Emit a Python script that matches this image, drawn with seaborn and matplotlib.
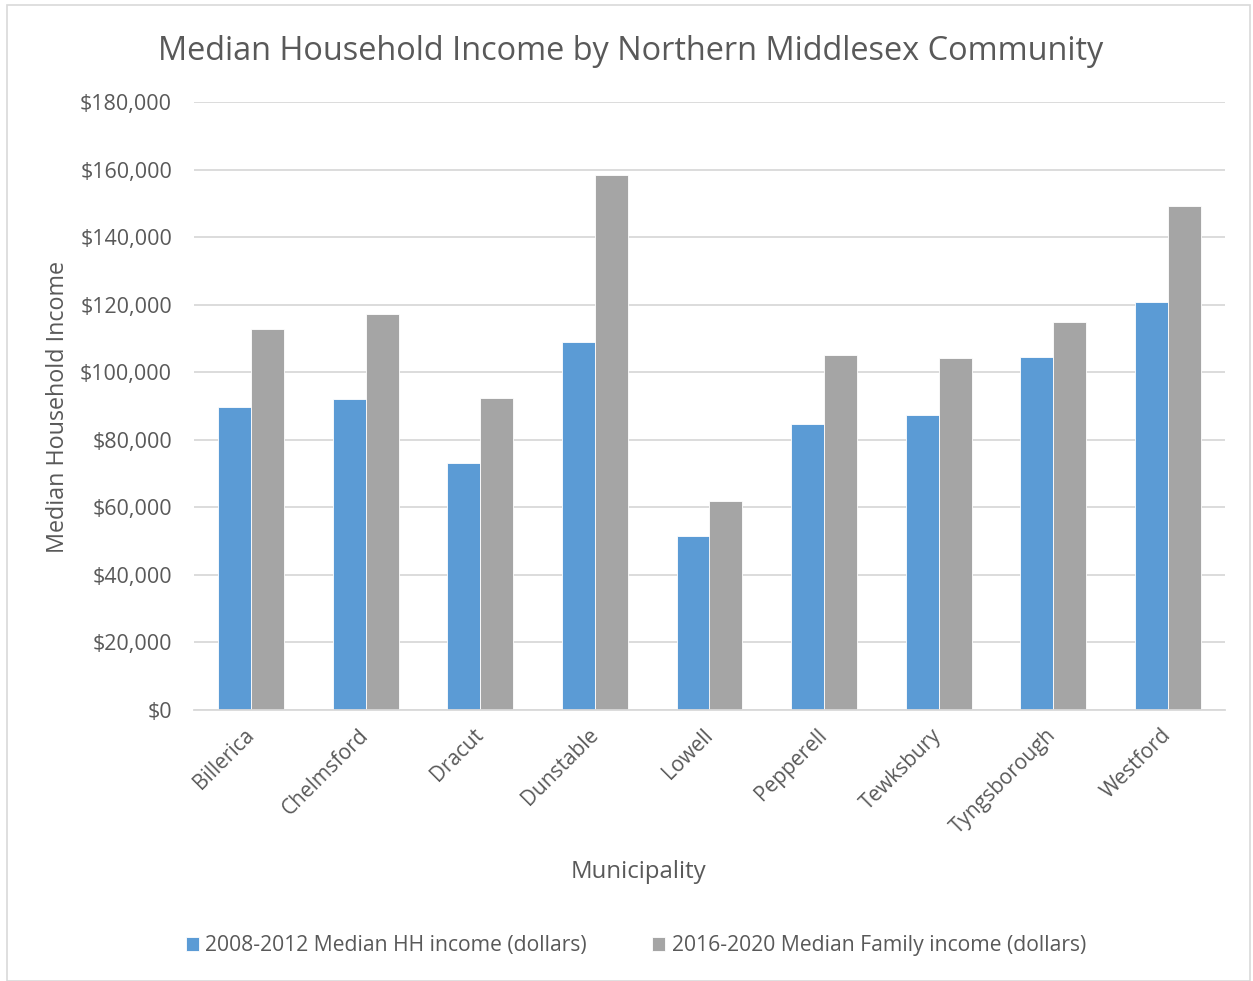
import matplotlib
matplotlib.use("Agg")
import matplotlib.pyplot as plt
import matplotlib.ticker as mticker
from matplotlib.patches import Rectangle
import pandas as pd
import seaborn as sns

# Median income by municipality
municipalities = ["Billerica", "Chelmsford", "Dracut", "Dunstable", "Lowell",
                  "Pepperell", "Tewksbury", "Tyngsborough", "Westford"]
hh_income_2008_2012 = [89700, 92200, 73100, 108900, 51500, 84800, 87200, 104600, 120900]
family_income_2016_2020 = [112900, 117300, 92300, 158300, 61900, 105100, 104300, 115000, 149200]
series_names = ["2008-2012 Median HH income (dollars)",
                "2016-2020 Median Family income (dollars)"]
y_ticks = list(range(0, 180001, 20000))

df = pd.DataFrame({
    "Municipality": municipalities * 2,
    "Income": hh_income_2008_2012 + family_income_2016_2020,
    "Series": [series_names[0]] * len(municipalities) + [series_names[1]] * len(municipalities),
})

sns.set_theme(style="white")
plt.rcParams["font.family"] = ["Open Sans", "DejaVu Sans"]
text_color = "#595959"
grid_color = "#d9d9d9"

W, H = 1253, 981
fig = plt.figure(figsize=(W / 100, H / 100), dpi=100)
ax = fig.add_axes([194 / W, 1 - 710 / H, (1225 - 194) / W, (710 - 102) / H])

palette = {series_names[0]: "#5B9BD5", series_names[1]: "#A5A5A5"}
sns.barplot(data=df, x="Municipality", y="Income", hue="Series", palette=palette,
            width=0.576, saturation=1, edgecolor="white", linewidth=0.6, ax=ax, legend=True)

ax.set_ylim(0, 180000)
ax.set_yticks(y_ticks)
ax.yaxis.set_major_formatter(mticker.FuncFormatter(lambda v, p: f"${v:,.0f}"))
ax.grid(axis="y", color=grid_color, linewidth=1.3)
ax.set_axisbelow(True)
for side in ["top", "right", "left"]:
    ax.spines[side].set_visible(False)
ax.spines["bottom"].set_color(grid_color)
ax.spines["bottom"].set_linewidth(1.3)
ax.tick_params(axis="both", length=0, colors=text_color)
ax.tick_params(axis="y", pad=15.8, labelsize=15.5)
ax.tick_params(axis="x", pad=16, labelsize=15)
plt.setp(ax.get_xticklabels(), rotation=45, ha="right", va="center", rotation_mode="anchor")

ax.set_xlabel("")
ax.set_ylabel("")
fig.text(638 / W, 1 - 872 / H, "Municipality", fontsize=17.3, color=text_color,
         ha="center", va="center")
fig.text(58 / W, 1 - 407 / H, "Median Household Income", fontsize=16.8, color=text_color,
         ha="center", va="center", rotation=90)
fig.text(631 / W, 1 - 51 / H, "Median Household Income by Northern Middlesex Community",
         fontsize=23.4, color=text_color, ha="center", va="center")

handles, labels = ax.get_legend_handles_labels()
ax.legend_.remove()
fig.legend(handles, labels, loc="center", bbox_to_anchor=(636 / W, 1 - 946 / H), ncol=2,
           frameon=False, fontsize=15.2, labelcolor=text_color, handlelength=0.62,
           handleheight=0.62, handletextpad=0.3, columnspacing=3.1)

# chart area border
fig.patches.append(Rectangle((7 / W, 0.0), 1 - 7 / W - 0.002, 1 - 5 / H,
                             transform=fig.transFigure, fill=False,
                             edgecolor=grid_color, linewidth=1.2))

fig.savefig("out.png", dpi=100, facecolor="white")
